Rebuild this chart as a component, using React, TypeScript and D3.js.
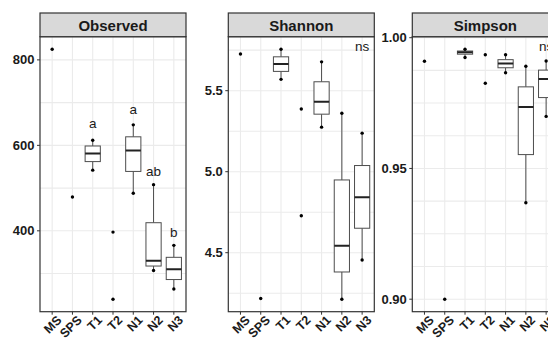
import React from "react";
import * as d3 from "d3";

const categories = ["MS", "SPS", "T1", "T2", "N1", "N2", "N3"];

// Observed richness
const observedPoints: [string, number][] = [
  ["MS", 825], ["SPS", 479], ["T1", 612], ["T1", 542], ["T2", 397], ["T2", 240],
  ["N1", 648], ["N1", 488], ["N2", 508], ["N2", 307], ["N3", 366], ["N3", 264],
];
const observedBoxes: [string, number, number, number, number, number][] = [
  // cat, lo, q1, median, q3, hi
  ["T1", 542, 562, 581, 598.5, 612],
  ["N1", 488, 539, 588, 620, 648],
  ["N2", 307, 317.6, 330, 419, 508],
  ["N3", 264, 286, 310, 338, 366],
];
const observedLetters: [string, number, string][] = [
  ["T1", 641, "a"], ["N1", 674, "a"], ["N2", 528, "ab"], ["N3", 385, "b"],
];
const observedTicks = [400, 600, 800];
const observedGrid = [300, 400, 500, 600, 700, 800];

// Shannon
const shannonPoints: [string, number][] = [
  ["MS", 5.726], ["SPS", 4.217], ["T1", 5.756], ["T1", 5.57], ["T2", 5.387], ["T2", 4.728],
  ["N1", 5.678], ["N1", 5.275], ["N2", 5.361], ["N2", 4.213], ["N3", 5.238], ["N3", 4.455],
];
const shannonBoxes: [string, number, number, number, number, number][] = [
  ["T1", 5.57, 5.619, 5.664, 5.709, 5.756],
  ["N1", 5.275, 5.355, 5.432, 5.555, 5.678],
  ["N2", 4.213, 4.381, 4.543, 4.949, 5.361],
  ["N3", 4.455, 4.651, 4.842, 5.038, 5.238],
];
const shannonTicks = [4.5, 5.0, 5.5];
const shannonGrid = [4.25, 4.5, 4.75, 5.0, 5.25, 5.5, 5.75];

// Simpson
const simpsonPoints: [string, number][] = [
  ["MS", 0.991], ["SPS", 0.9], ["T1", 0.9956], ["T1", 0.9924], ["T2", 0.9935], ["T2", 0.9826],
  ["N1", 0.9935], ["N1", 0.9866], ["N2", 0.9891], ["N2", 0.9369], ["N3", 0.9911], ["N3", 0.9699],
];
const simpsonBoxes: [string, number, number, number, number, number][] = [
  ["T1", 0.9924, 0.9937, 0.9944, 0.9949, 0.9956],
  ["N1", 0.9866, 0.9885, 0.9901, 0.9916, 0.9935],
  ["N2", 0.9369, 0.9553, 0.9735, 0.9812, 0.9891],
  ["N3", 0.9699, 0.9771, 0.9842, 0.9876, 0.9911],
];
const simpsonTicks = [0.9, 0.95, 1.0];
const simpsonGrid = [0.9, 0.9125, 0.925, 0.9375, 0.95, 0.9625, 0.975, 0.9875, 1.0];

const panels = [
  {
    title: "Observed", left: 40, points: observedPoints, boxes: observedBoxes,
    ticks: observedTicks, grid: observedGrid, fmt: (v: number) => String(v),
    letters: observedLetters, ns: false,
  },
  {
    title: "Shannon", left: 228.3, points: shannonPoints, boxes: shannonBoxes,
    ticks: shannonTicks, grid: shannonGrid, fmt: (v: number) => v.toFixed(1),
    letters: [] as [string, number, string][], ns: true,
  },
  {
    title: "Simpson", left: 412.3, points: simpsonPoints, boxes: simpsonBoxes,
    ticks: simpsonTicks, grid: simpsonGrid, fmt: (v: number) => v.toFixed(2),
    letters: [] as [string, number, string][], ns: true,
  },
];

const W = 548, H = 340;
const PW = 146;
const TOP = 36.7, BOTTOM = 311.7, STRIP_TOP = 13;
const FONT = "'Liberation Sans', Arial, Helvetica, sans-serif";

function Panel({ p }: { p: typeof panels[number] }) {
  const vals = p.points.map((d) => d[1]);
  const [mn, mx] = d3.extent(vals) as [number, number];
  const pad = (mx - mn) * 0.05;
  const y = d3.scaleLinear().domain([mn - pad, mx + pad]).range([BOTTOM, TOP]);
  const step = PW / (categories.length + 0.2);
  const x = (c: string) => p.left + step * (0.6 + categories.indexOf(c));
  const bw = step * 0.75;
  const right = p.left + PW;
  const clipId = "clip-" + p.title;
  return (
    <g>
      <defs>
        <clipPath id={clipId}>
          <rect x={p.left} y={TOP} width={PW} height={BOTTOM - TOP} />
        </clipPath>
      </defs>
      <rect x={p.left} y={TOP} width={PW} height={BOTTOM - TOP} fill="white" />
      <g clipPath={`url(#${clipId})`}>
        {p.grid.map((g) => (
          <line key={"g" + g} x1={p.left} x2={right} y1={y(g)} y2={y(g)} stroke="#ebebeb" strokeWidth={1.1} />
        ))}
        {categories.map((c) => (
          <line key={"v" + c} x1={x(c)} x2={x(c)} y1={TOP} y2={BOTTOM} stroke="#ebebeb" strokeWidth={1.1} />
        ))}
        {p.boxes.map(([c, lo, q1, med, q3, hi]) => (
          <g key={"b" + c}>
            <line x1={x(c)} x2={x(c)} y1={y(hi)} y2={y(q3)} stroke="#4d4d4d" strokeWidth={1} />
            <line x1={x(c)} x2={x(c)} y1={y(q1)} y2={y(lo)} stroke="#4d4d4d" strokeWidth={1} />
            <rect x={x(c) - bw / 2} y={y(q3)} width={bw} height={y(q1) - y(q3)} fill="white" stroke="#4d4d4d" strokeWidth={1} />
            <line x1={x(c) - bw / 2} x2={x(c) + bw / 2} y1={y(med)} y2={y(med)} stroke="#222" strokeWidth={2} />
          </g>
        ))}
        {p.points.map(([c, v], i) => (
          <circle key={"p" + i} cx={x(c)} cy={y(v)} r={1.7} fill="black" />
        ))}
      </g>
      {p.letters.map(([c, v, t]) => (
        <text key={"l" + c} x={x(c)} y={y(v)} textAnchor="middle"
          fontFamily={FONT} fontSize={13.5} fill="#1a1a1a">{t}</text>
      ))}
      {p.ns && (
        <text x={x("N3")} y={50.7} textAnchor="middle"
          fontFamily={FONT} fontSize={13.5} fill="#1a1a1a">ns</text>
      )}
      <rect x={p.left} y={TOP} width={PW} height={BOTTOM - TOP} fill="none" stroke="#333" strokeWidth={1.2} />
      <rect x={p.left} y={STRIP_TOP} width={PW} height={TOP - STRIP_TOP} fill="#d9d9d9" stroke="#333" strokeWidth={1.2} />
      <text x={p.left + PW / 2} y={(STRIP_TOP + TOP) / 2 + 1} textAnchor="middle" dominantBaseline="central"
        fontFamily={FONT} fontWeight="bold" fontSize={15} fill="#1a1a1a">{p.title}</text>
      {p.ticks.map((t) => (
        <g key={"t" + t}>
          <line x1={p.left - 3} x2={p.left} y1={y(t)} y2={y(t)} stroke="#333" strokeWidth={1} />
          <text x={p.left - 5.5} y={y(t)} textAnchor="end" dominantBaseline="central"
            fontFamily={FONT} fontWeight="bold" fontSize={13} fill="#1a1a1a">{p.fmt(t)}</text>
        </g>
      ))}
      {categories.map((c) => (
        <line key={"xt" + c} x1={x(c)} x2={x(c)} y1={BOTTOM} y2={BOTTOM + 3} stroke="#333" strokeWidth={1} />
      ))}
      {categories.map((c) => (
        <g key={"xl" + c} transform={`translate(${x(c) + 4},${BOTTOM + 3}) rotate(-45)`}>
          <text x={0} y={0} textAnchor="end" dy="0.7em"
            fontFamily={FONT} fontWeight="bold" fontSize={12.5} fill="#1a1a1a">{c}</text>
        </g>
      ))}
    </g>
  );
}

export default function App() {
  return (
    <svg width={W} height={H} style={{ position: "absolute", left: 0, top: 0, background: "white" }}>
      <rect x={0} y={0} width={W} height={H} fill="white" />
      {panels.map((p) => (
        <Panel key={p.title} p={p} />
      ))}
    </svg>
  );
}
